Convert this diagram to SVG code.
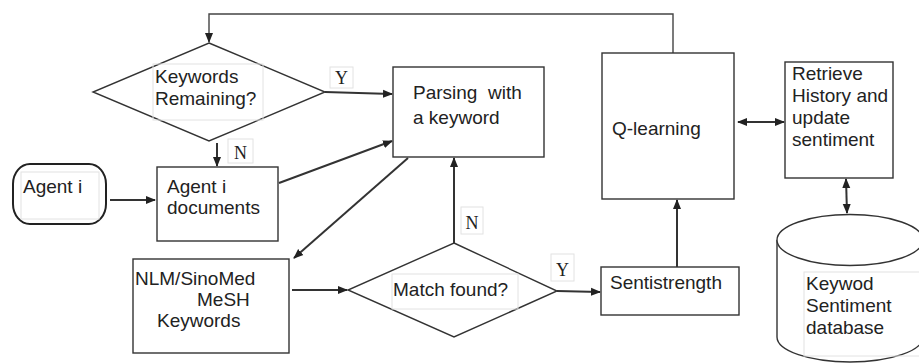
<svg xmlns="http://www.w3.org/2000/svg" width="919" height="363" viewBox="0 0 919 363">
  <style>
    .box { fill: #fff; stroke: #333; stroke-width: 1.4; }
    .term { fill: #fff; stroke: #222; stroke-width: 2; }
    .tb { fill: none; stroke: #e2e2e2; stroke-width: 1; }
    .lbl { fill: #fff; stroke: #e2e2e2; stroke-width: 1; }
    .t { font-family: "Liberation Sans", Arial, sans-serif; font-size: 19px; fill: #222; }
    .yn { font-family: "Liberation Serif", "Times New Roman", serif; font-size: 18px; fill: #222; text-anchor: middle; }
    .edge { fill: none; stroke: #333; stroke-width: 2; }
    .thin { fill: none; stroke: #444; stroke-width: 1.4; }
  </style>
  <defs>
    <marker id="ah" viewBox="0 0 10 10" refX="9" refY="5" markerWidth="10" markerHeight="10" markerUnits="userSpaceOnUse" orient="auto-start-reverse">
      <path d="M0,1 L10,5 L0,9 Z" fill="#222"/>
    </marker>
  </defs>

  <!-- connectors -->
  <g id="connectors">
    <polyline class="thin" points="673,53 673,14 209,14 209,42" marker-end="url(#ah)"/>
    <line class="edge" x1="325" y1="92" x2="392" y2="94" marker-end="url(#ah)"/>
    <line class="edge" x1="217" y1="143" x2="217" y2="166" marker-end="url(#ah)"/>
    <line class="edge" x1="110" y1="200" x2="155" y2="200" marker-end="url(#ah)"/>
    <line class="edge" x1="279" y1="183" x2="392" y2="141" marker-end="url(#ah)"/>
    <line class="edge" x1="408" y1="158" x2="294" y2="258" marker-end="url(#ah)"/>
    <line class="edge" x1="292" y1="290" x2="347" y2="290" marker-end="url(#ah)"/>
    <line class="edge" x1="454" y1="243" x2="454" y2="158" marker-end="url(#ah)"/>
    <line class="edge" x1="557" y1="291" x2="600" y2="292" marker-end="url(#ah)"/>
    <line class="edge" x1="677" y1="267" x2="677" y2="200" marker-end="url(#ah)"/>
    <line class="edge" x1="738" y1="122" x2="784" y2="122" marker-start="url(#ah)" marker-end="url(#ah)"/>
    <line class="edge" x1="846" y1="179" x2="847" y2="213" marker-start="url(#ah)" marker-end="url(#ah)"/>
  </g>

  <!-- decision: keywords remaining -->
  <g id="keywords-remaining">
    <polygon class="box" points="209,43 325,92 209,141 93,92"/>
    <rect class="tb" x="153" y="64" width="110" height="56"/>
    <text class="t" x="155" y="83">Keywords</text>
    <text class="t" x="155" y="105">Remaining?</text>
  </g>
  <g id="label-y1">
    <rect class="lbl" x="330" y="67" width="23" height="21"/>
    <text class="yn" x="341.5" y="84">Y</text>
  </g>
  <g id="label-n1">
    <rect class="lbl" x="228" y="139" width="25" height="24"/>
    <text class="yn" x="240.5" y="159">N</text>
  </g>

  <!-- parsing -->
  <g id="parsing">
    <rect class="box" x="393" y="67" width="151" height="90"/>
    <text class="t" x="413" y="99" xml:space="preserve">Parsing  with</text>
    <text class="t" x="413" y="124">a keyword</text>
  </g>

  <!-- agent terminator -->
  <g id="agent">
    <rect class="term" x="13" y="164" width="93" height="60" rx="17" ry="20"/>
    <rect class="tb" x="21" y="172" width="78" height="47"/>
    <text class="t" x="23" y="193">Agent i</text>
  </g>

  <!-- agent documents -->
  <g id="agent-documents">
    <rect class="box" x="157" y="167" width="121" height="74"/>
    <text class="t" x="167" y="193">Agent i</text>
    <text class="t" x="167" y="214">documents</text>
  </g>

  <!-- MeSH keywords -->
  <g id="mesh-keywords">
    <rect class="box" x="133" y="259" width="156" height="94"/>
    <text class="t" x="135" y="285">NLM/SinoMed</text>
    <text class="t" x="197" y="306">MeSH</text>
    <text class="t" x="157" y="327">Keywords</text>
  </g>

  <!-- decision: match found -->
  <g id="match-found">
    <polygon class="box" points="454,243 557,291 454,337 348,290"/>
    <rect class="tb" x="392" y="274" width="126" height="35"/>
    <text class="t" x="393" y="296">Match found?</text>
  </g>
  <g id="label-n2">
    <rect class="lbl" x="461" y="207" width="22" height="27"/>
    <text class="yn" x="472" y="229">N</text>
  </g>
  <g id="label-y2">
    <rect class="lbl" x="551" y="254" width="23" height="27"/>
    <text class="yn" x="562.5" y="276">Y</text>
  </g>

  <!-- sentistrength -->
  <g id="sentistrength">
    <rect class="box" x="601" y="267" width="138" height="48"/>
    <text class="t" x="610" y="289">Sentistrength</text>
  </g>

  <!-- q-learning -->
  <g id="q-learning">
    <rect class="box" x="602" y="53" width="132" height="146"/>
    <text class="t" x="612" y="135">Q-learning</text>
  </g>

  <!-- retrieve history -->
  <g id="retrieve-history">
    <rect class="box" x="785" y="62" width="108" height="116"/>
    <text class="t" x="792" y="80">Retrieve</text>
    <text class="t" x="792" y="102">History and</text>
    <text class="t" x="792" y="124">update</text>
    <text class="t" x="792" y="146">sentiment</text>
  </g>

  <!-- sentiment database -->
  <g id="sentiment-db">
    <path class="box" d="M777,240 L777,337 A73,25 0 0 0 923,337 L923,240"/>
    <ellipse class="box" cx="850" cy="240" rx="73" ry="25.5"/>
    <rect class="tb" x="804" y="272" width="120" height="84"/>
    <text class="t" x="806" y="290">Keywod</text>
    <text class="t" x="806" y="312">Sentiment</text>
    <text class="t" x="806" y="334">database</text>
  </g>
</svg>
